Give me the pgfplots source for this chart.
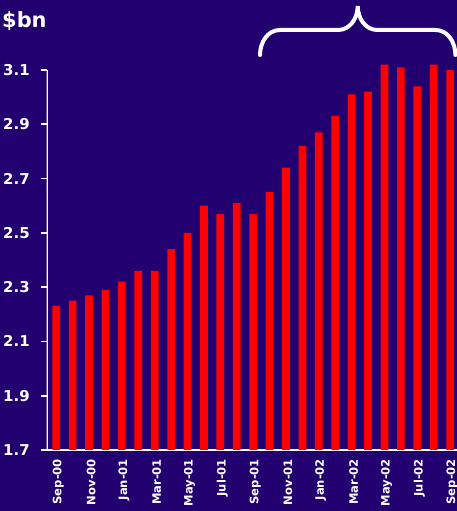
\documentclass[border=0pt]{standalone}
\usepackage{pgfplots}
\pgfplotsset{compat=1.18}
\usepackage{pgfplotstable}
\usepackage{fontspec}
\setmainfont{DejaVu Sans}
\definecolor{bgnavy}{RGB}{34,0,112}
\definecolor{barred}{RGB}{255,0,0}

% monthly value, $bn (0 = Sep-00 ... 24 = Sep-02)
\pgfplotstableread{
idx val
0  2.23
1  2.25
2  2.27
3  2.29
4  2.32
5  2.36
6  2.36
7  2.44
8  2.50
9  2.60
10 2.57
11 2.61
12 2.57
13 2.65
14 2.74
15 2.82
16 2.87
17 2.93
18 3.01
19 3.02
20 3.12
21 3.11
22 3.04
23 3.12
24 3.10
}\monthly

\begin{document}
\begin{tikzpicture}[x=1bp,y=1bp]
\path[use as bounding box] (0,0) rectangle (457,511);
\clip (0,0) rectangle (457,511);
\fill[bgnavy] (0,0) rectangle (457,511);

\begin{axis}[
  at={(46.7bp,61bp)}, anchor=south west,
  scale only axis, width=410.3bp, height=407.14bp,
  xmin=-0.58, xmax=24.42, ymin=1.7, ymax=3.2,
  axis x line*=bottom, axis y line*=left,
  x axis line style={white, line width=1.6bp},
  y axis line style={draw=none},
  tick align=outside,
  major tick length=5.5bp, minor tick length=5.5bp,
  ytick={1.7,1.9,2.1,2.3,2.5,2.7,2.9,3.1},
  ytick style={white, line width=1.6bp},
  yticklabel style={white, xshift=-8bp, font=\bfseries\fontsize{15}{18}\selectfont},
  /pgf/number format/.cd, fixed, fixed zerofill, precision=1, assume math mode=true,
  /pgfplots/.cd,
  xtick={0,2,...,24},
  xticklabels={Sep-00,Nov-00,Jan-01,Mar-01,May-01,Jul-01,Sep-01,Nov-01,Jan-02,Mar-02,May-02,Jul-02,Sep-02},
  xtick style={draw=none},
  minor xtick={-0.5,1.5,3.5,5.5,7.5,9.5,11.5,13.5,15.5,17.5,19.5,21.5,23.5},
  minor x tick style={white, line width=1.6bp},
  xticklabel style={white, rotate=90, anchor=east, yshift=-2bp, font=\bfseries\fontsize{11.6}{13}\selectfont},
  axis background/.style={fill=bgnavy},
]
\addplot[ybar, bar width=7.7bp, fill=barred, draw=none] table[x=idx, y=val] {\monthly};
% y axis line stops at the top tick
\draw[white, line width=1.6bp] (axis cs:-0.58,1.7) -- (axis cs:-0.58,3.1);
\end{axis}

\node[white, anchor=base west, inner sep=0pt, font=\bfseries\fontsize{21}{24}\selectfont] at (2,483) {\$bn};

% brace over the last twelve months
\draw[white, line width=4bp, line cap=round]
  (260,456) to[out=90,in=180] (280,481) -- (338,481)
  to[out=0,in=-90] (357.7,505)
  to[out=-90,in=180] (377.4,481) -- (435.4,481)
  to[out=0,in=90] (455.4,456);
\end{tikzpicture}
\end{document}
